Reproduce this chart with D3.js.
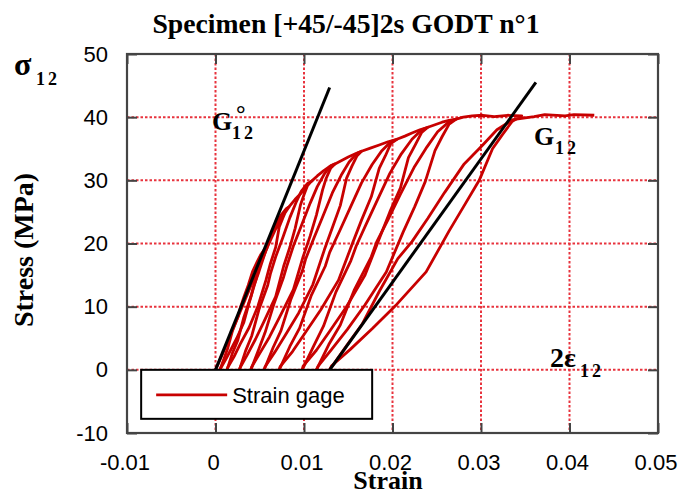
<!DOCTYPE html>
<html>
<head>
<meta charset="utf-8">
<script src="https://cdn.jsdelivr.net/npm/d3@7"></script>
<style>
  body { margin: 0; background: #fff; }
  svg { display: block; }
</style>
</head>
<body>
<svg></svg>
<script>
// ---------- data ----------
const xTicks = [-0.01, 0, 0.01, 0.02, 0.03, 0.04, 0.05];
const xTickLabels = ['-0.01', '0', '0.01', '0.02', '0.03', '0.04', '0.05'];
const yTicks = [-10, 0, 10, 20, 30, 40, 50];
const yTickLabels = ['-10', '0', '10', '20', '30', '40', '50'];

// strain gage record, one array per load / unload cycle : [strain, stress MPa]
const cycle1 = [[0,0],[0.001,3.2],[0.002,6.6],[0.003,9.9],[0.004,13.3],[0.005,16.5],[0.0058,19.2],
  [0.0055,18.8],[0.0053,17.9],[0.005,16.8],[0.0046,14.4],[0.0042,12.5],[0.0038,10.6],[0.0032,7.5],[0.0024,5],[0.0017,3.1],[0.0011,1.5],[0.0006,0.3],[0.0005,0]];
const cycle2 = [[0.0005,0],[0.001,1.9],[0.0014,3.5],[0.0019,6.1],[0.0026,8.6],[0.0028,9.8],[0.0032,11.5],[0.0037,13.4],[0.0042,15.6],[0.0047,17.1],[0.0051,18.2],[0.0055,19],
  [0.0058,19.2],[0.0063,20.8],[0.0068,22.3],[0.0074,23.9],[0.0083,25.8],
  [0.008,25.3],[0.0076,24],[0.0072,22.6],[0.0068,19.4],[0.0062,16.8],[0.0057,14.2],[0.0048,10.1],[0.0038,6.7],[0.0028,4.1],[0.0021,2.1],[0.0014,0.4],[0.0013,0]];
const cycle3 = [[0.0013,0],[0.0019,2.6],[0.0025,4.6],[0.0032,8.3],[0.004,11.6],[0.0043,13.2],[0.0049,15.5],[0.0055,18.1],[0.0062,20.9],[0.0068,23],[0.0074,24.5],[0.008,25.5],
  [0.0083,25.8],[0.009,27],[0.0097,28],[0.0103,29],[0.0108,29.8],
  [0.0104,29.2],[0.01,27.7],[0.0096,26.1],[0.009,22.4],[0.0084,19.4],[0.0077,16.4],[0.0068,11.6],[0.0055,7.7],[0.0045,4.8],[0.0036,2.4],[0.0028,0.4],[0.0027,0]];
const cycle4 = [[0.0027,0],[0.0034,3],[0.0041,5.4],[0.0049,9.5],[0.0059,13.4],[0.0062,15.2],[0.0068,17.9],[0.0076,20.9],[0.0084,24.1],[0.0091,26.5],[0.0097,28.3],[0.0104,29.5],
  [0.0108,29.8],[0.0115,30.7],[0.0122,31.5],[0.0128,32.1],[0.0135,32.6],
  [0.013,31.9],[0.0125,30.3],[0.0121,28.5],[0.0114,24.5],[0.0107,21.2],[0.0099,17.9],[0.0088,12.7],[0.0073,8.5],[0.0061,5.2],[0.005,2.6],[0.0041,0.5],[0.004,0]];
const cycle5 = [[0.004,0],[0.0049,3.3],[0.0056,5.9],[0.0066,10.4],[0.0077,14.7],[0.0081,16.6],[0.0088,19.6],[0.0097,22.8],[0.0107,26.4],[0.0115,29],[0.0123,31],[0.013,32.3],
  [0.0135,32.6],[0.0142,33.1],[0.015,33.7],[0.0158,34.2],[0.0165,34.6],
  [0.016,33.9],[0.0154,32.2],[0.0148,30.3],[0.0141,26],[0.0132,22.5],[0.0123,19],[0.011,13.5],[0.0094,9],[0.0079,5.5],[0.0067,2.8],[0.0056,0.5],[0.0055,0]];
const cycle6 = [[0.0055,0],[0.0065,3.5],[0.0074,6.2],[0.0085,11.1],[0.0098,15.6],[0.0102,17.6],[0.0111,20.8],[0.0121,24.2],[0.0132,28],[0.0142,30.8],[0.0151,32.9],[0.016,34.3],
  [0.0165,34.6],[0.0175,35.1],[0.0185,35.6],[0.0195,36.1],[0.0205,36.5],
  [0.0198,35.8],[0.0192,33.9],[0.0185,31.9],[0.0176,27.4],[0.0165,23.7],[0.0155,20.1],[0.0139,14.2],[0.0119,9.5],[0.0101,5.8],[0.0087,2.9],[0.0073,0.5],[0.0072,0]];
const cycle7 = [[0.0072,0],[0.0084,3.7],[0.0095,6.6],[0.0108,11.7],[0.0124,16.4],[0.0129,18.6],[0.014,21.9],[0.0152,25.6],[0.0165,29.6],[0.0177,32.5],[0.0188,34.7],[0.0198,36.1],
  [0.0205,36.5],[0.0214,37],[0.0222,37.5],[0.0231,38],[0.024,38.4],
  [0.0233,37.6],[0.0226,35.7],[0.0218,33.6],[0.0209,28.8],[0.0197,25],[0.0186,21.1],[0.0169,15],[0.0148,10],[0.0129,6.1],[0.0114,3.1],[0.0099,0.6],[0.0098,0]];
const cycle8 = [[0.0098,0],[0.0111,3.8],[0.0122,6.9],[0.0136,12.3],[0.0153,17.3],[0.0159,19.6],[0.017,23],[0.0183,26.9],[0.0197,31.1],[0.021,34.2],[0.0222,36.5],[0.0233,38],
  [0.024,38.4],[0.0248,38.8],[0.0256,39.2],[0.0264,39.5],[0.0272,39.7],
  [0.0264,38.9],[0.0256,36.9],[0.0248,34.7],[0.0237,29.8],[0.0225,25.8],[0.0212,21.8],[0.0193,15.5],[0.0169,10.3],[0.0149,6.4],[0.0131,3.2],[0.0116,0.6],[0.0114,0]];
const cycle9 = [[0.0114,0],[0.0128,4],[0.0141,7.1],[0.0157,12.7],[0.0176,17.9],[0.0182,20.2],[0.0195,23.8],[0.0209,27.8],[0.0225,32.2],[0.0239,35.3],[0.0251,37.7],[0.0264,39.3],
  [0.0272,39.7],[0.028,40],[0.029,40.2],[0.0302,40.3],[0.0315,40.1],[0.033,40.3],[0.0346,40.2],
  [0.0335,39.3],[0.0324,37.2],[0.0313,35],[0.0298,30],[0.0281,26],[0.0264,22],[0.0238,15.5],[0.0205,10.4],[0.0177,6.5],[0.0152,3.2],[0.0131,0.6],[0.0129,0]];
const cycle10 = [[0.0129,0],[0.0148,3.8],[0.0166,7.3],[0.0185,12.4],[0.0206,17.6],[0.0222,20.3],[0.024,24],[0.0259,28.1],[0.0281,32.6],[0.0302,35.6],[0.0318,38],[0.0336,39.6],
  [0.036,40.1],[0.0372,40.4],[0.0395,40.2],[0.0405,40.4],[0.0428,40.3]];
const cycles = [cycle1, cycle2, cycle3, cycle4, cycle5, cycle6, cycle7, cycle8, cycle9, cycle10];

// modulus lines
const g0Line = [[0, 0], [0.0129, 44.7]];
const g12Line = [[0.0129, 0], [0.0362, 45.5]];

// ---------- layout ----------
const W = 678, H = 495;
const margin = {top: 54, right: 20, bottom: 62, left: 127},
      width = W - margin.left - margin.right,
      height = H - margin.top - margin.bottom;

const SANS = "'Liberation Sans', Arial, Helvetica, sans-serif";
const SERIF = "'Liberation Serif', 'Times New Roman', Times, serif";

const svg = d3.select('svg').attr('width', W).attr('height', H);
const g = svg.append('g').attr('transform', `translate(${margin.left},${margin.top})`);

const x = d3.scaleLinear().domain([-0.01, 0.05]).range([0, width]);
const y = d3.scaleLinear().domain([-10, 50]).range([height, 0]);

//----------- grid ----------
const grid = g.append('g')
  .attr('stroke', '#e4101c')
  .attr('stroke-width', 2)
  .attr('stroke-dasharray', '2.5,2')
  .attr('opacity', 0.85);
grid.selectAll('.vx').data(xTicks).join('line')
  .attr('x1', d => x(d)).attr('x2', d => x(d))
  .attr('y1', 0).attr('y2', height);
grid.selectAll('.hy').data(yTicks).join('line')
  .attr('x1', 0).attr('x2', width)
  .attr('y1', d => y(d)).attr('y2', d => y(d));

//----------- curves ----------
svg.append('defs').append('clipPath').attr('id', 'clip')
  .append('rect').attr('width', width).attr('height', height);

const line = d3.line().x(d => x(d[0])).y(d => y(d[1]));

g.append('g').attr('clip-path', 'url(#clip)')
  .selectAll('path').data(cycles).join('path')
  .attr('d', line)
  .attr('fill', 'none')
  .attr('stroke', '#c80000')
  .attr('stroke-width', 2.8)
  .attr('stroke-linejoin', 'round');

g.append('g').selectAll('path').data([g0Line, g12Line]).join('path')
  .attr('d', line)
  .attr('fill', 'none')
  .attr('stroke', '#000')
  .attr('stroke-width', 3);

//----------- legend ----------
const leg = g.append('g').attr('transform', `translate(${x(-0.0084)},${y(0)})`);
leg.append('rect')
  .attr('width', 231).attr('height', 49)
  .attr('fill', '#fff').attr('stroke', '#000').attr('stroke-width', 2);
leg.append('line')
  .attr('x1', 15).attr('x2', 86).attr('y1', 25).attr('y2', 25)
  .attr('stroke', '#c80000').attr('stroke-width', 2.6);
leg.append('text')
  .attr('x', 91).attr('y', 33)
  .attr('font-family', SANS).attr('font-size', 22)
  .text('Strain gage');

//----------- axes ----------
const xx = d3.axisBottom(x).tickValues(xTicks)
  .tickFormat((d, i) => xTickLabels[i])
  .tickSizeInner(-10).tickSizeOuter(0);
const yy = d3.axisLeft(y).tickValues(yTicks)
  .tickFormat((d, i) => yTickLabels[i])
  .tickSizeInner(-10).tickSizeOuter(0).tickPadding(19);
const xTop = d3.axisTop(x).tickValues(xTicks).tickFormat('').tickSizeInner(-10).tickSizeOuter(0);
const yRight = d3.axisRight(y).tickValues(yTicks).tickFormat('').tickSizeInner(-10).tickSizeOuter(0);

const axisX = g.append('g').attr('transform', `translate(0,${height})`).call(xx);
axisX.selectAll('text').attr('x', -2.5).attr('y', 37).attr('dy', null);
const axisY = g.append('g').call(yy);
g.append('g').call(xTop);
g.append('g').attr('transform', `translate(${width},0)`).call(yRight);

g.selectAll('.domain').remove();
g.selectAll('.tick line').attr('stroke', '#444').attr('stroke-width', 2);
g.selectAll('.tick text')
  .attr('font-family', SANS).attr('font-size', 22).attr('fill', '#000');

g.append('rect')
  .attr('width', width).attr('height', height)
  .attr('fill', 'none').attr('stroke', '#444').attr('stroke-width', 2.2);

//----------- titles ----------
svg.append('text')
  .attr('x', 346).attr('y', 33)
  .attr('text-anchor', 'middle')
  .attr('font-family', SERIF).attr('font-weight', 'bold').attr('font-size', 27.7)
  .text('Specimen [+45/-45]2s GODT n°1');

svg.append('text')
  .attr('transform', 'translate(33,250) rotate(-90)')
  .attr('text-anchor', 'middle')
  .attr('font-family', SERIF).attr('font-weight', 'bold').attr('font-size', 28)
  .text('Stress (MPa)');

svg.append('text')
  .attr('x', 388).attr('y', 489)
  .attr('text-anchor', 'middle')
  .attr('font-family', SERIF).attr('font-weight', 'bold').attr('font-size', 26)
  .text('Strain');

//----------- symbols ----------
function sym(px, py, main, size, sub, subDx, subDy, sup) {
  const t = svg.append('g').attr('font-family', SERIF).attr('font-weight', 'bold').attr('fill', '#000');
  t.append('text').attr('x', px).attr('y', py).attr('font-size', size).text(main);
  t.append('text').attr('x', px + subDx).attr('y', py + subDy)
    .attr('font-size', 18).attr('letter-spacing', 3).text(sub);
  if (sup) t.append('text').attr('x', px + subDx + 4).attr('y', py - 8).attr('font-size', 24).text(sup);
}
sym(14, 75, 'σ', 32, '12', 22, 10);
sym(212, 130, 'G', 26, '12', 20, 9, '°');
sym(534, 145, 'G', 26, '12', 21, 9);
sym(550, 367, '2ε', 28, '12', 30, 10);
</script>
</body>
</html>
